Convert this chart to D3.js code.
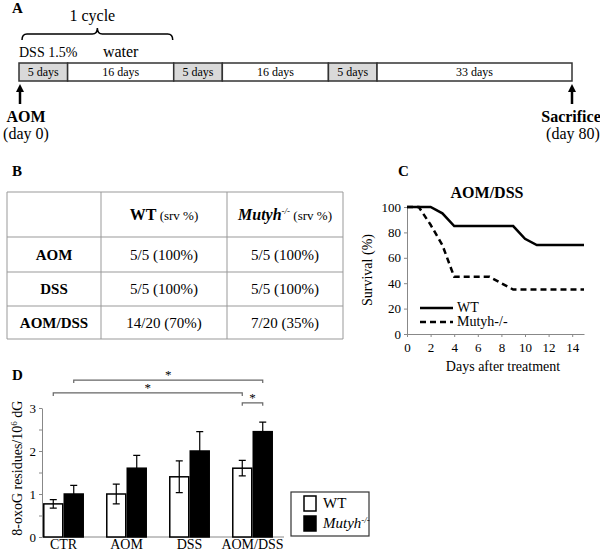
<html>
<head>
  <script src="https://d3js.org/d3.v7.min.js"></script>
  <style>
    body { margin: 0; background: #fff; }
    svg, svg text { font-family: "Liberation Serif", "Tinos", "DejaVu Serif", serif; }
    .axis .domain, .axis line { stroke: #888; }
    .axis text { fill: #000; }
  </style>
</head>
<body>
<svg id="fig" width="600" height="553" font-family="Liberation Serif, DejaVu Serif, serif"></svg>
<script>
  // A: treatment schedule
  const phases = ["DSS", "water", "DSS", "water", "DSS", "water"];
  const phaseDays = [5, 16, 5, 16, 5, 33];

  // B: survival table
  const tableRows = ["AOM", "DSS", "AOM/DSS"];
  const survWT = ["5/5 (100%)", "5/5 (100%)", "14/20 (70%)"];
  const survMut = ["5/5 (100%)", "5/5 (100%)", "7/20 (35%)"];

  // C: survival curves (day, %)
  const wtSurvival = [[0, 100], [2, 100], [3, 95], [4, 85], [9, 85], [10, 75], [11, 70], [15, 70]];
  const mutSurvival = [[0, 100], [1, 100], [2, 86], [3, 70], [4, 45], [7, 45], [8, 40], [9, 35], [15, 35]];
  const survTicksX = [0, 2, 4, 6, 8, 10, 12, 14];
  const survTicksY = [0, 20, 40, 60, 80, 100];

  // D: 8-oxoG levels
  const groups = ["CTR", "AOM", "DSS", "AOM/DSS"];
  const oxoWT = [0.77, 1.0, 1.4, 1.6];
  const oxoWTerr = [0.1, 0.23, 0.37, 0.18];
  const oxoMut = [1.0, 1.6, 2.0, 2.45];
  const oxoMutErr = [0.2, 0.3, 0.45, 0.22];
  const sigPairs = [
    { from: ["CTR", "mut"], to: ["AOM/DSS", "mut"], level: 3.65 },
    { from: ["CTR", "wt"], to: ["AOM/DSS", "wt"], level: 3.35 },
    { from: ["AOM/DSS", "wt"], to: ["AOM/DSS", "mut"], level: 3.12 }
  ];

  const FONT = "'Liberation Serif', 'DejaVu Serif', serif";
  const svg = d3.select("#fig");

  function panelLabel(t, x, y) {
    svg.append("text").attr("x", x).attr("y", y).text(t)
      .style("font-weight", "bold").style("font-size", "15px");
  }

  function arrowUp(g, x, yTip, yEnd) {
    g.append("line").attr("x1", x).attr("x2", x).attr("y1", yTip + 5).attr("y2", yEnd)
      .attr("stroke", "#000").attr("stroke-width", 2.5);
    g.append("path").attr("d", `M${x - 4},${yTip + 8}L${x},${yTip}L${x + 4},${yTip + 8}Z`).attr("fill", "#000");
  }

  // ---------- A ----------
  panelLabel("A", 12, 13);
  const gA = svg.append("g");
  // segments drawn with length ~ days + 4.3 (schematic, not to scale)
  const cum = [0];
  phaseDays.forEach(d => cum.push(cum[cum.length - 1] + d + 4.3));
  const xA = d3.scaleLinear().domain([0, cum[cum.length - 1]]).range([19, 572]);
  const barTop = 63, barH = 18;

  gA.selectAll("rect.seg")
    .data(phases)
    .enter().append("rect")
    .attr("x", (d, i) => xA(cum[i]))
    .attr("y", barTop)
    .attr("width", (d, i) => xA(cum[i + 1]) - xA(cum[i]))
    .attr("height", barH)
    .attr("fill", d => d === "DSS" ? "#d9d9d9" : "#fff")
    .attr("stroke", "#333")
    .attr("stroke-width", 1.5);

  gA.selectAll("text.seg")
    .data(phaseDays)
    .enter().append("text")
    .attr("x", (d, i) => (xA(cum[i]) + xA(cum[i + 1])) / 2)
    .attr("y", barTop + 13)
    .attr("text-anchor", "middle")
    .style("font-size", "12px")
    .text(d => d + " days");

  gA.append("text").attr("x", 19).attr("y", 57).style("font-size", "14px").text("DSS 1.5%");
  gA.append("text").attr("x", (xA(cum[1]) + xA(cum[2])) / 2).attr("y", 57)
    .attr("text-anchor", "middle").style("font-size", "16px").text("water");

  // brace over one cycle
  const b0 = 22, b1 = xA(cum[2]) - 1, bm = (b0 + b1) / 2, by = 34;
  gA.append("path")
    .attr("d", `M${b0},${by + 6}Q${b0},${by} ${b0 + 5},${by}L${bm - 5},${by}Q${bm},${by} ${bm},${by - 6}` +
      `Q${bm},${by} ${bm + 5},${by}L${b1 - 5},${by}Q${b1},${by} ${b1},${by + 6}`)
    .attr("fill", "none").attr("stroke", "#000").attr("stroke-width", 1.5);
  gA.append("text").attr("x", bm - 5).attr("y", 21).attr("text-anchor", "middle")
    .style("font-size", "16px").text("1 cycle");

  arrowUp(gA, xA(0) + 1, 84, 104);
  gA.append("text").attr("x", 26).attr("y", 122).attr("text-anchor", "middle")
    .style("font-size", "16px").style("font-weight", "bold").text("AOM");
  gA.append("text").attr("x", 26).attr("y", 139).attr("text-anchor", "middle")
    .style("font-size", "16px").text("(day 0)");

  arrowUp(gA, xA(cum[cum.length - 1]), 84, 104);
  gA.append("text").attr("x", 571).attr("y", 122).attr("text-anchor", "middle")
    .style("font-size", "16px").style("font-weight", "bold").text("Sacrifice");
  gA.append("text").attr("x", 573).attr("y", 139).attr("text-anchor", "middle")
    .style("font-size", "16px").text("(day 80)");

  // ---------- B ----------
  panelLabel("B", 12, 176);
  const gB = svg.append("g");
  const colEdges = [7, 101, 227, 343];
  const rowEdges = [192, 237, 272, 306, 339];
  colEdges.forEach(x => gB.append("line").attr("x1", x).attr("x2", x)
    .attr("y1", rowEdges[0]).attr("y2", rowEdges[rowEdges.length - 1]).attr("stroke", "#999"));
  rowEdges.forEach(y => gB.append("line").attr("y1", y).attr("y2", y)
    .attr("x1", colEdges[0]).attr("x2", colEdges[colEdges.length - 1]).attr("stroke", "#999"));
  const colMid = i => (colEdges[i] + colEdges[i + 1]) / 2;
  const rowMid = i => (rowEdges[i] + rowEdges[i + 1]) / 2 + 5;

  const h1 = gB.append("text").attr("x", colMid(1)).attr("y", rowMid(0)).attr("text-anchor", "middle");
  h1.append("tspan").text("WT").style("font-weight", "bold").style("font-size", "16px");
  h1.append("tspan").text(" (srv %)").style("font-size", "13px");
  const h2 = gB.append("text").attr("x", colMid(2)).attr("y", rowMid(0)).attr("text-anchor", "middle");
  h2.append("tspan").text("Mutyh").style("font-weight", "bold").style("font-style", "italic").style("font-size", "16px");
  h2.append("tspan").text("-/-").attr("dy", -6).style("font-style", "italic").style("font-size", "9px");
  h2.append("tspan").text(" (srv %)").attr("dy", 6).style("font-size", "13px");

  tableRows.forEach((r, i) => {
    gB.append("text").attr("x", colMid(0)).attr("y", rowMid(i + 1)).attr("text-anchor", "middle")
      .style("font-weight", "bold").style("font-size", "15px").text(r);
    gB.append("text").attr("x", colMid(1)).attr("y", rowMid(i + 1)).attr("text-anchor", "middle")
      .style("font-size", "15px").text(survWT[i]);
    gB.append("text").attr("x", colMid(2)).attr("y", rowMid(i + 1)).attr("text-anchor", "middle")
      .style("font-size", "15px").text(survMut[i]);
  });

  // ---------- C ----------
  panelLabel("C", 398, 176);
  const gC = svg.append("g");
  const xC = d3.scaleLinear().domain([0, 15]).range([407, 584]);
  const yC = d3.scaleLinear().domain([0, 100]).range([334, 207]);

  gC.append("g").attr("class", "axis").attr("transform", `translate(0,${yC(0)})`)
    .call(d3.axisBottom(xC).tickValues(survTicksX).tickSize(3).tickSizeOuter(0))
    .selectAll("text").style("font-size", "13px").style("font-family", FONT).attr("dy", "0.9em");
  gC.append("g").attr("class", "axis").attr("transform", `translate(${xC(0)},0)`)
    .call(d3.axisLeft(yC).tickValues(survTicksY).tickSize(3).tickSizeOuter(0))
    .selectAll("text").style("font-size", "13px").style("font-family", FONT);

  const line = d3.line().x(d => xC(d[0])).y(d => yC(d[1]));
  gC.append("path").datum(wtSurvival).attr("d", line)
    .attr("fill", "none").attr("stroke", "#000").attr("stroke-width", 2.5);
  gC.append("path").datum(mutSurvival).attr("d", line)
    .attr("fill", "none").attr("stroke", "#000").attr("stroke-width", 2.5).attr("stroke-dasharray", "6,4");

  gC.append("text").attr("x", 487).attr("y", 198).attr("text-anchor", "middle")
    .style("font-weight", "bold").style("font-size", "16px").text("AOM/DSS");
  gC.append("text").attr("x", 503).attr("y", 371).attr("text-anchor", "middle")
    .style("font-size", "14px").text("Days after treatment");
  gC.append("text").attr("transform", "translate(372,270) rotate(-90)").attr("text-anchor", "middle")
    .style("font-size", "14px").text("Survival (%)");

  const legC = [{ name: "WT", dash: null }, { name: "Mutyh-/-", dash: "6,4" }];
  legC.forEach((d, i) => {
    const y = 308 + i * 14;
    gC.append("line").attr("x1", 420).attr("x2", 453).attr("y1", y).attr("y2", y)
      .attr("stroke", "#000").attr("stroke-width", 2.5).attr("stroke-dasharray", d.dash);
    gC.append("text").attr("x", 457).attr("y", y + 4).style("font-size", "14px").text(d.name);
  });

  // ---------- D ----------
  panelLabel("D", 12, 380);
  const gD = svg.append("g");
  const yD = d3.scaleLinear().domain([0, 3]).range([537, 408]);
  const xD = d3.scaleBand().domain(groups).range([32, 284]).paddingInner(0.35).paddingOuter(0.175);
  const xSub = d3.scaleBand().domain(["wt", "mut"]).range([0, xD.bandwidth()]);

  gD.append("g").attr("class", "axis").attr("transform", "translate(42,0)")
    .call(d3.axisLeft(yD).tickValues(d3.range(0, 3.01, 0.5)).tickSize(3).tickSizeOuter(0)
      .tickFormat(d => Number.isInteger(d) ? d : ""))
    .selectAll("text").style("font-size", "13px").style("font-family", FONT);
  gD.append("line").attr("x1", 42).attr("x2", 284).attr("y1", yD(0)).attr("y2", yD(0)).attr("stroke", "#888");

  const rows = groups.map((g, i) => ({ g, wt: oxoWT[i], wtE: oxoWTerr[i], mut: oxoMut[i], mutE: oxoMutErr[i] }));
  const series = [
    { key: "wt", fill: "#fff", val: d => d.wt, err: d => d.wtE },
    { key: "mut", fill: "#000", val: d => d.mut, err: d => d.mutE }
  ];

  series.forEach(s => {
    gD.selectAll("rect." + s.key)
      .data(rows)
      .enter().append("rect")
      .attr("x", d => xD(d.g) + xSub(s.key) + 0.75)
      .attr("y", d => yD(s.val(d)))
      .attr("width", xSub.bandwidth() - 1.5)
      .attr("height", d => yD(0) - yD(s.val(d)))
      .attr("fill", s.fill)
      .attr("stroke", "#000")
      .attr("stroke-width", 1.5);

    const cx = d => xD(d.g) + xSub(s.key) + xSub.bandwidth() / 2;
    gD.selectAll("path.err" + s.key)
      .data(rows)
      .enter().append("path")
      .attr("d", d => {
        const x = cx(d), y0 = yD(s.val(d) - s.err(d)), y1 = yD(s.val(d) + s.err(d));
        return `M${x},${y0}L${x},${y1}M${x - 3.5},${y1}L${x + 3.5},${y1}M${x - 3.5},${y0}L${x + 3.5},${y0}`;
      })
      .attr("stroke", "#000")
      .attr("stroke-width", 1.2)
      .attr("fill", "none");
  });

  gD.selectAll("text.cat")
    .data(groups)
    .enter().append("text")
    .attr("x", d => xD(d) + xD.bandwidth() / 2)
    .attr("y", 549)
    .attr("text-anchor", "middle")
    .style("font-size", "14px")
    .text(d => d);

  const barMid = (g, k) => xD(g) + xSub(k) + xSub.bandwidth() / 2;
  sigPairs.forEach(p => {
    const x0 = barMid(p.from[0], p.from[1]), x1 = barMid(p.to[0], p.to[1]), y = yD(p.level);
    gD.append("path").attr("d", `M${x0},${y + 3}L${x0},${y}L${x1},${y}L${x1},${y + 3}`)
      .attr("fill", "none").attr("stroke", "#666").attr("stroke-width", 1.2);
    gD.append("text").attr("x", (x0 + x1) / 2).attr("y", y - 1).attr("text-anchor", "middle")
      .style("font-size", "13px").text("*");
  });

  const yl = gD.append("text").attr("transform", `translate(22,${yD(1.6)}) rotate(-90)`)
    .attr("text-anchor", "middle").style("font-size", "14px");
  yl.append("tspan").text("8-oxoG residues/10");
  yl.append("tspan").text("6").attr("dy", -5).style("font-size", "9px");
  yl.append("tspan").text(" dG").attr("dy", 5);

  // legend
  gD.append("rect").attr("x", 291).attr("y", 492).attr("width", 78).attr("height", 44)
    .attr("fill", "#fff").attr("stroke", "#333").attr("stroke-width", 1.2);
  const legD = [{ name: "WT", fill: "#fff" }, { name: "Mutyh", fill: "#000" }];
  legD.forEach((d, i) => {
    const y = 496 + i * 20;
    gD.append("rect").attr("x", 304).attr("y", y).attr("width", 12).attr("height", 15)
      .attr("fill", d.fill).attr("stroke", "#000").attr("stroke-width", 1.5);
    const t = gD.append("text").attr("x", 323).attr("y", y + 12).style("font-size", "15px");
    if (i === 0) t.text(d.name);
    else {
      t.append("tspan").text(d.name).style("font-style", "italic");
      t.append("tspan").text("-/-").attr("dy", -5).style("font-style", "italic").style("font-size", "9px");
    }
  });
</script>
</body>
</html>
